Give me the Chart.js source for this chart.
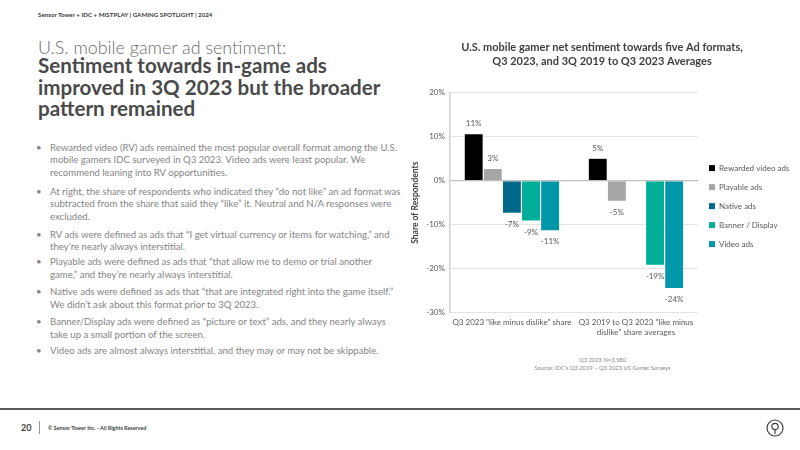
<!DOCTYPE html>
<html>
<head>
<meta charset="utf-8">
<script src="https://cdn.jsdelivr.net/npm/chart.js@4"></script>
<style>
  body { margin: 0; width: 800px; height: 450px; background: #fff; position: relative; overflow: hidden; font-family: Lato, "Open Sans", sans-serif; color: #595959; }
  .hdr { position: absolute; left: 38px; top: 11px; font-size: 6.2px; font-weight: 700; color: #404040; }
  .t1 { position: absolute; left: 38px; top: 36px; font-size: 17.9px; font-weight: 300; color: #6b6b6b; line-height: 22px; }
  .t2 { position: absolute; left: 38px; top: 55px; font-size: 20.6px; font-weight: 700; color: #4a4a4a; line-height: 21.5px; }
  ul { position: absolute; left: 36px; top: 142px; margin: 0; padding: 0; list-style: none; font-size: 9.6px; line-height: 12.4px; color: #858585; white-space: nowrap; }
  li { position: relative; padding-left: 14px; }
  li::before { content: "•"; position: absolute; left: 0; }
  #wrap { position: absolute; left: 400px; top: 30px; width: 400px; height: 320px; }
  .note { position: absolute; left: 500px; width: 205px; top: 356px; text-align: center; font-size: 5.8px; line-height: 8px; color: #888; }
  .rule { position: absolute; left: 0; top: 408px; width: 800px; height: 1.5px; background: #5a5a5a; }
  .pg { position: absolute; left: 21px; top: 422px; font-size: 9px; font-weight: 700; color: #404040; }
  .bar { position: absolute; left: 39px; top: 421px; width: 1px; height: 13px; background: #999; }
  .cr { position: absolute; left: 48px; top: 425px; font-size: 5.4px; font-weight: 700; color: #404040; }
  svg { position: absolute; left: 766px; top: 419px; }
</style>
</head>
<body>
<div class="hdr">Sensor Tower + IDC + MISTPLAY | GAMING SPOTLIGHT | 2024</div>
<div class="t1">U.S. mobile gamer ad sentiment:</div>
<div class="t2">Sentiment towards in-game ads<br>improved in 3Q 2023 but the broader<br>pattern remained</div>
<ul>
  <li style="margin-bottom:6.8px">Rewarded video (RV) ads remained the most popular overall format among the U.S.<br>mobile gamers IDC surveyed in Q3 2023. Video ads were least popular. We<br>recommend leaning into RV opportunities.</li>
  <li style="margin-bottom:5.8px">At right, the share of respondents who indicated they “do not like” an ad format was<br>subtracted from the share that said they “like” it. Neutral and N/A responses were<br>excluded.</li>
  <li style="margin-bottom:2.4px">RV ads were defined as ads that “I get virtual currency or items for watching,” and<br>they’re nearly always interstitial.</li>
  <li style="margin-bottom:5.2px">Playable ads were defined as ads that “that allow me to demo or trial another<br>game,” and they’re nearly always interstitial.</li>
  <li style="margin-bottom:5.2px">Native ads were defined as ads that “that are integrated right into the game itself.”<br>We didn’t ask about this format prior to 3Q 2023.</li>
  <li style="margin-bottom:4.2px">Banner/Display ads were defined as “picture or text” ads, and they nearly always<br>take up a small portion of the screen.</li>
  <li>Video ads are almost always interstitial, and they may or may not be skippable.</li>
</ul>
<div id="wrap"><canvas id="chart"></canvas></div>
<div class="note">Q3 2023 N=3,580<br>Source: IDC’s Q3 2019 – Q3 2023 US Gamer Surveys</div>
<div class="rule"></div>
<div class="pg">20</div>
<div class="bar"></div>
<div class="cr">© Sensor Tower Inc. - All Rights Reserved</div>
<svg width="18" height="18" viewBox="0 0 18 18">
  <circle cx="9" cy="9" r="8" fill="none" stroke="#404040" stroke-width="1.2"/>
  <circle cx="9" cy="7.5" r="3.2" fill="none" stroke="#404040" stroke-width="1.2"/>
  <line x1="9" y1="10.7" x2="9" y2="15" stroke="#404040" stroke-width="1.2"/>
</svg>
<script>
// Chart data
const categories = [['Q3 2023 "like minus dislike" share'], ['Q3 2019 to Q3 2023 "like minus', 'dislike" share averages']];
const seriesNames = ['Rewarded video ads', 'Playable ads', 'Native ads', 'Banner / Display', 'Video ads'];
const rewardedVideo = [10.7, 5.1];
const playable = [2.8, -4.7];
const native = [-7.4, null];
const bannerDisplay = [-9.2, -19.2];
const videoAds = [-11.4, -24.5];
const yTicks = [-30, -20, -10, 0, 10, 20];

const COLORS = ['#000000', '#a6a6a6', '#00698a', '#00ad99', '#0097a9'];
const FONT = 'Lato, "Open Sans", sans-serif';

const series = [rewardedVideo, playable, native, bannerDisplay, videoAds];

// Draws rounded value labels above/below each bar
const valueLabels = {
    id: 'valueLabels',
    afterDatasetsDraw(chart) {
        const ctx = chart.ctx;
        ctx.save();
        ctx.font = '8px ' + FONT;
        ctx.fillStyle = '#595959';
        ctx.textAlign = 'center';
        ctx.textBaseline = 'middle';
        chart.data.datasets.forEach((ds, i) => {
            chart.getDatasetMeta(i).data.forEach((bar, j) => {
                const v = ds.data[j];
                if (v === null || v === undefined) return;
                const y = v >= 0 ? bar.y - 10 : bar.y + 11;
                ctx.fillText(Math.round(v) + '%', bar.x, y);
            });
        });
        ctx.restore();
    }
};

new Chart(document.getElementById('chart'), {
    type: 'bar',
    data: {
        labels: categories,
        datasets: series.map((data, i) => ({
            label: seriesNames[i],
            data: data,
            backgroundColor: COLORS[i],
            borderColor: '#ffffff',
            borderWidth: 0.6,
            barPercentage: 1,
            categoryPercentage: 0.77
        }))
    },
    options: {
        responsive: true,
        maintainAspectRatio: false,
        animation: false,
        layout: { padding: { left: 10, right: 6, top: 0, bottom: 8 } },
        scales: {
            x: {
                grid: { display: false, drawTicks: false },
                border: { display: false },
                ticks: { color: '#595959', font: { family: FONT, size: 8 }, maxRotation: 0, autoSkip: false, padding: 5 }
            },
            y: {
                min: -30,
                max: 20,
                afterBuildTicks: axis => { axis.ticks = yTicks.map(v => ({ value: v })); },
                grid: {
                    color: ctx => ctx.tick && ctx.tick.value === 0 ? '#bfbfbf' : '#e3e3e3',
                    lineWidth: ctx => ctx.tick && ctx.tick.value === 0 ? 1.2 : 1,
                    drawTicks: false
                },
                border: { display: true, color: '#d0d0d0', width: 1.5 },
                ticks: {
                    color: '#595959',
                    font: { family: FONT, size: 8 },
                    padding: 5,
                    callback: v => v + '%'
                },
                title: {
                    display: true,
                    text: 'Share of Respondents',
                    color: '#404040',
                    font: { family: FONT, size: 8.5, weight: 'bold' },
                    padding: { top: 0, bottom: 1 }
                }
            }
        },
        plugins: {
            title: {
                display: true,
                text: ['U.S. mobile gamer net sentiment towards five Ad formats,', 'Q3 2023, and 3Q 2019 to Q3 2023 Averages'],
                color: '#404040',
                font: { family: FONT, size: 11, weight: 'bold', lineHeight: 1.3 },
                padding: { top: 10, bottom: 24 }
            },
            legend: {
                position: 'right',
                align: 'center',
                // empty title only used to push the entries down
                title: { display: true, text: ' ', font: { size: 1 }, padding: { top: 39, bottom: 0 } },
                labels: {
                    color: '#595959',
                    font: { family: FONT, size: 8 },
                    boxWidth: 6,
                    boxHeight: 6,
                    padding: 11,
                    generateLabels: chart => Chart.defaults.plugins.legend.labels.generateLabels(chart)
                        .map(l => Object.assign(l, { lineWidth: 0, strokeStyle: l.fillStyle }))
                }
            },
            tooltip: { enabled: false }
        }
    },
    plugins: [valueLabels]
});
</script>
</body>
</html>
